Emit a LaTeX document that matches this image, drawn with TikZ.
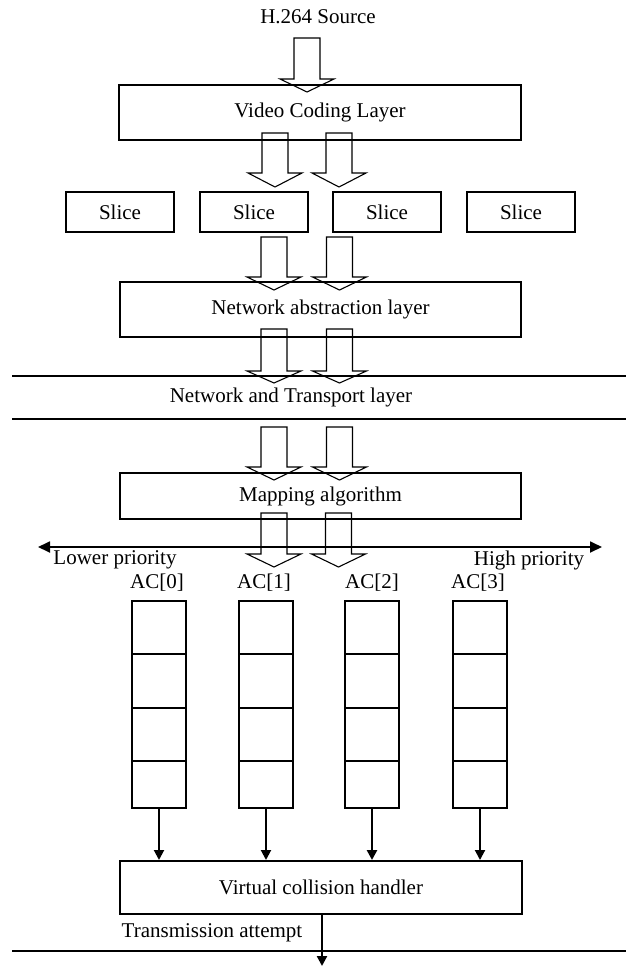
\documentclass[tikz,border=0pt]{standalone}
\usepackage{fontspec}
\setmainfont{Liberation Serif}
\usetikzlibrary{arrows.meta,calc}
\newcommand\blockarrow[4]{%
  \draw[blockline] ({#1-13},#2) -- ({#1-13},#3) -- ({#1-27},#3) -- (#1,#4)
    -- ({#1+27},#3) -- ({#1+13},#3) -- ({#1+13},#2) -- cycle;}
\begin{document}
\begin{tikzpicture}[x=1pt,y=-1pt,
  txt/.style={font=\fontsize{21}{25}\selectfont, inner sep=0pt},
  box/.style={draw, line width=1.1pt, rectangle, inner sep=0pt, font=\fontsize{21}{25}\selectfont},
  blockline/.style={draw, line width=1.1pt, line join=miter},
  layerline/.style={line width=1.1pt},
  queue/.style={draw, line width=1.1pt, rectangle, inner sep=0pt, minimum width=54pt, minimum height=207pt},
  conn/.style={line width=2pt, -{Triangle[length=10pt,width=10pt]}},
  prio/.style={line width=1.8pt, {Triangle[length=12pt,width=11pt]}-{Triangle[length=12pt,width=11pt]}}]
\useasboundingbox (0,0) rectangle (626,966);

% texts and boxes
\node[txt] (src) at (318,17) {H.264 Source};
\node[box, minimum width=402pt, minimum height=55pt] (vcl) at (320,112.5) {Video Coding Layer};
\node[box, minimum width=108pt, minimum height=40pt] (s1) at (120,212) {Slice};
\node[box, minimum width=108pt, minimum height=40pt] (s2) at (254,212) {Slice};
\node[box, minimum width=108pt, minimum height=40pt] (s3) at (387,212) {Slice};
\node[box, minimum width=108pt, minimum height=40pt] (s4) at (521,212) {Slice};
\node[box, minimum width=401pt, minimum height=55pt] (nal) at (320.5,309.5) {Network abstraction layer};

\coordinate (l1a) at (12,376); \coordinate (l1b) at (626,376);
\coordinate (l2a) at (12,419); \coordinate (l2b) at (626,419);
\draw[layerline] (l1a) -- (l1b);
\draw[layerline] (l2a) -- (l2b);
\node[txt] (ntl) at (291,397) {Network and Transport layer};

\node[box, minimum width=401pt, minimum height=46pt] (map) at (320.5,496) {Mapping algorithm};

% block arrows
\blockarrow{307}{38}{79}{92}
\blockarrow{275}{133}{173}{187}
\blockarrow{339}{133}{173}{187}
\blockarrow{274}{237}{277}{290}
\blockarrow{339.5}{237}{277}{290}
\blockarrow{274}{329}{371}{383}
\blockarrow{339.5}{329}{371}{383}
\blockarrow{274}{427}{467}{480}
\blockarrow{339.5}{427}{467}{480}
\blockarrow{274}{513}{554}{567}
\blockarrow{338.5}{513}{554}{567}

% priority axis
\coordinate (pl) at (38,547); \coordinate (pr) at (602,547);
\draw[prio] (pl) -- (pr);
\node[txt] (low) at (115,560) {Lower priority};
\node[txt] (high) at (529,560) {High priority};

% access categories
\foreach \i/\xl/\lx in {0/132/157,1/239/264,2/345/372,3/453/478}{
  \node[txt] (ac\i) at (\lx,583) {AC[\i]};
  \node[queue] (q\i) at ({\xl+27},704.5) {};
  \foreach \yy in {654,708,761}{
    \draw[line width=1.1pt] (\xl,\yy) -- ({\xl+54},\yy);
  }
}

% virtual collision handler
\node[box, line width=2pt, minimum width=402pt, minimum height=53pt] (vch) at (321,887.5) {Virtual collision handler};
\draw[conn] (q0.south) -- (q0.south |- vch.north);
\draw[conn] (q1.south) -- (q1.south |- vch.north);
\draw[conn, line width=2.6pt] (q2.south) -- (q2.south |- vch.north);
\draw[conn] (q3.south) -- (q3.south |- vch.north);

\coordinate (bla) at (12,951); \coordinate (blb) at (626,951);
\draw[layerline] (bla) -- (blb);
\coordinate (out) at (322,966);
\draw[conn, line width=2.2pt] (vch.south -| out) -- (out);
\node[txt] (tx) at (212,933) {Transmission attempt};
\end{tikzpicture}
\end{document}
